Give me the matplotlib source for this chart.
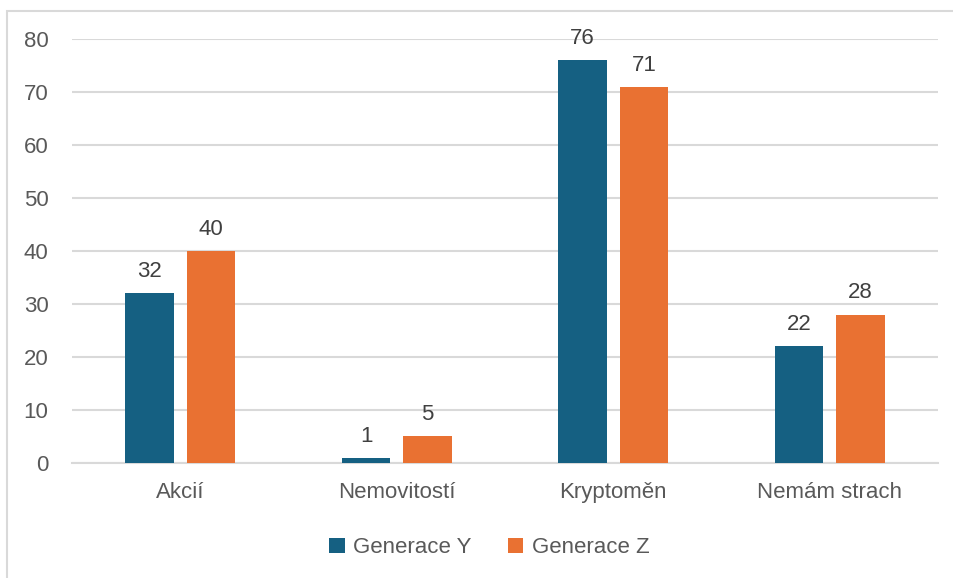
import numpy as np
import matplotlib.pyplot as plt
from matplotlib.patches import Rectangle

categories = ['Akcií', 'Nemovitostí', 'Kryptoměn', 'Nemám strach']
gen_y = [32, 1, 76, 22]
gen_z = [40, 5, 71, 28]
series_names = ['Generace Y', 'Generace Z']
colors = ['#156082', '#e97132']
yticks = [0, 10, 20, 30, 40, 50, 60, 70, 80]

plt.rcParams['font.family'] = ['Liberation Sans', 'DejaVu Sans']
text_col = '#595959'

fig = plt.figure(figsize=(9.54, 5.78), dpi=100)
ax = fig.add_axes([0.0755, 0.199, 0.9077, 0.7335])

# outer chart border (open at right/bottom as in the picture)
fig.patches.append(Rectangle((0.0073, -0.05), 1.05, 0.981 + 0.05, transform=fig.transFigure,
                             fill=False, edgecolor='#d9d9d9', linewidth=1.5))

x = np.arange(len(categories))
w = 0.226
off = 0.142
b1 = ax.bar(x - off, gen_y, w, color=colors[0], label=series_names[0], zorder=3)
b2 = ax.bar(x + off, gen_z, w, color=colors[1], label=series_names[1], zorder=3)

for bars in (b1, b2):
    ax.bar_label(bars, padding=8, fontsize=16, color='#404040')

ax.set_xlim(-0.5, len(categories) - 0.5)
ax.set_ylim(0, 80)
ax.set_yticks(yticks)
ax.set_xticks(x)
ax.set_xticklabels(categories)
ax.grid(axis='y', color='#d9d9d9', linewidth=1.5, zorder=0)
ax.tick_params(axis='both', length=0, labelsize=16, labelcolor=text_col)
ax.tick_params(axis='y', pad=17)
ax.tick_params(axis='x', pad=14)
for s in ['top', 'right', 'left']:
    ax.spines[s].set_visible(False)
ax.spines['bottom'].set_color('#d9d9d9')
ax.spines['bottom'].set_linewidth(1.5)

fig.legend(loc='center', bbox_to_anchor=(0.513, 0.052), ncol=2, frameon=False,
           fontsize=16, labelcolor=text_col, handlelength=0.7, handleheight=0.7,
           columnspacing=1.6, handletextpad=0.4)

fig.savefig('out.png', dpi=100)
